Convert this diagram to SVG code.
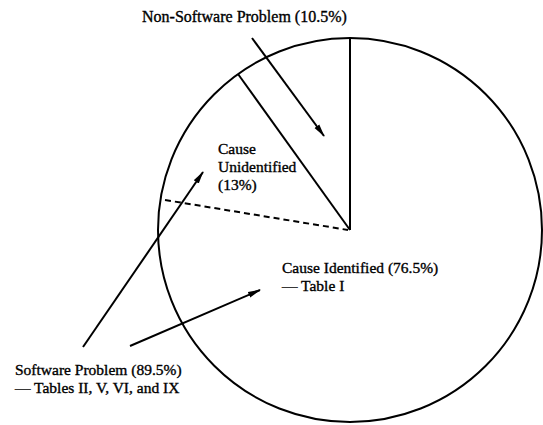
<svg xmlns="http://www.w3.org/2000/svg" width="543" height="425" viewBox="0 0 543 425">
<style>
.t{font-family:"Liberation Serif","Times New Roman",serif;font-size:15.5px;fill:#000;stroke:#000;stroke-width:0.35px;}
.ln{stroke:#000;stroke-width:2;fill:none;}
.ar{stroke:#000;stroke-width:2;fill:none;marker-end:url(#ah);}
</style>
<defs>
<marker id="ah" markerWidth="13" markerHeight="8" refX="12" refY="4" orient="auto" markerUnits="userSpaceOnUse">
<path d="M0,1 L13,4 L0,7 Z" fill="#000"/>
</marker>
</defs>
<rect width="543" height="425" fill="#fff"/>
<g id="pie">
<circle class="ln" cx="350" cy="230" r="192"/>
<line class="ln" x1="350" y1="38" x2="350" y2="230"/>
<line class="ln" x1="238" y1="74" x2="350" y2="230"/>
<line class="ln" x1="165" y1="200" x2="348" y2="230" stroke-dasharray="6,4"/>
</g>
<g id="non-software">
<text class="t" x="142" y="22" style="font-size:16px">Non-Software Problem (10.5%)</text>
</g>
<g id="cause-unidentified">
<text class="t" x="218" y="154">Cause</text>
<text class="t" x="218" y="172">Unidentified</text>
<text class="t" x="218" y="190">(13%)</text>
</g>
<g id="cause-identified">
<text class="t" x="282" y="273">Cause Identified (76.5%)</text>
<text class="t" x="282" y="291">— Table I</text>
</g>
<g id="software">
<text class="t" x="15" y="375">Software Problem (89.5%)</text>
<text class="t" x="15" y="393">— Tables II, V, VI, and IX</text>
</g>
<g id="connectors">
<line class="ar" x1="252" y1="38" x2="324" y2="136"/>
<line class="ar" x1="83" y1="347" x2="203" y2="172"/>
<line class="ar" x1="130" y1="346" x2="260" y2="290"/>
</g>
</svg>
